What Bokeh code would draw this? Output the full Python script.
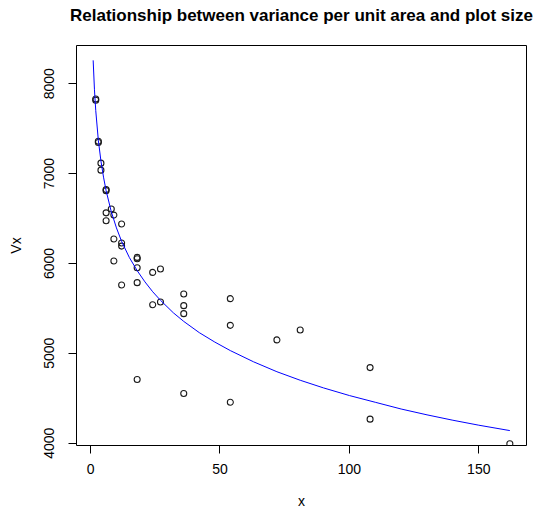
from bokeh.plotting import figure
from bokeh.models import Range1d, FixedTicker, ColumnDataSource, Title
from bokeh.embed import file_html
from bokeh.resources import INLINE

# Observed variance per unit area (Vx) for each plot size x (in basic units)
plot_size = [2, 2, 3, 3, 4, 4, 6, 6, 6, 6, 8, 9, 9, 9, 12, 12, 12, 12,
             18, 18, 18, 18, 18, 24, 24, 27, 27, 36, 36, 36, 36,
             54, 54, 54, 72, 81, 108, 108, 162]
vx = [7830, 7815, 7360, 7345, 7116, 7038, 6822, 6810, 6563, 6475, 6605,
      6538, 6271, 6027, 6438, 6227, 6193, 5760,
      6067, 6052, 5952, 5786, 4708, 5900, 5541, 5938, 5571,
      5660, 5530, 5441, 4553, 5608, 5311, 4456, 5149, 5260, 4841, 4267, 3993]

# Fitted curve of Vx against plot size
fit_x = [1, 1.5, 2, 3, 4, 5, 6, 8, 10, 12, 15, 18, 21, 24, 27, 32, 36, 42,
         48, 54, 63, 72, 81, 90, 100, 110, 120, 130, 140, 150, 162]
fit_vx = [8260, 7932, 7700, 7370, 7140, 6960, 6810, 6575, 6395, 6245, 6065,
          5920, 5795, 5685, 5590, 5450, 5355, 5230, 5125, 5030, 4905, 4795,
          4700, 4615, 4530, 4455, 4380, 4315, 4255, 4200, 4140]

x_ticks = [0, 50, 100, 150]
y_ticks = [4000, 5000, 6000, 7000, 8000]
title_text = "Relationship between variance per unit area and plot size"

FONT = "Liberation Sans"

p = figure(width=535, height=511, output_backend="svg", toolbar_location=None,
           x_range=Range1d(-5.44, 168.44), y_range=Range1d(3974, 8425),
           min_border_left=76, min_border_right=9, min_border_top=45,
           min_border_bottom=66)

p.background_fill_color = "white"
p.border_fill_color = "white"
p.outline_line_color = "black"
p.outline_line_width = 1
p.grid.visible = False

# Empty spacer row next to the frame, then the bold main title above it
p.add_layout(Title(text=" ", text_font=FONT, text_font_size="10px",
                   standoff=4.5), "above")
p.add_layout(Title(text=title_text, text_font=FONT, text_font_size="17px",
                   text_font_style="bold", text_color="black",
                   align="center", standoff=6), "above")

for ax in (p.xaxis[0], p.yaxis[0]):
    ax.axis_line_color = None
    ax.major_tick_in = 0
    ax.major_tick_out = 8
    ax.major_tick_line_color = "black"
    ax.minor_tick_line_color = None
    ax.major_label_text_font = FONT
    ax.major_label_text_font_size = "14px"
    ax.major_label_text_color = "black"
    ax.axis_label_text_font = FONT
    ax.axis_label_text_font_size = "14px"
    ax.axis_label_text_font_style = "normal"
    ax.axis_label_text_color = "black"

p.xaxis.ticker = FixedTicker(ticks=x_ticks)
p.yaxis.ticker = FixedTicker(ticks=y_ticks)
p.xaxis.axis_label = "x"
p.yaxis.axis_label = "Vx"
p.xaxis.major_label_standoff = 10
p.xaxis.axis_label_standoff = 16
p.yaxis.major_label_orientation = "vertical"
p.yaxis.major_label_standoff = 14
p.yaxis.axis_label_standoff = 18

src = ColumnDataSource(data=dict(x=plot_size, y=vx))
p.scatter("x", "y", source=src, marker="circle", size=6,
          fill_color=None, line_color="#1a1a1a", line_width=1.1)

p.line(fit_x, fit_vx, line_color="blue", line_width=1)

open("out.html", "w").write(file_html(p, INLINE))
